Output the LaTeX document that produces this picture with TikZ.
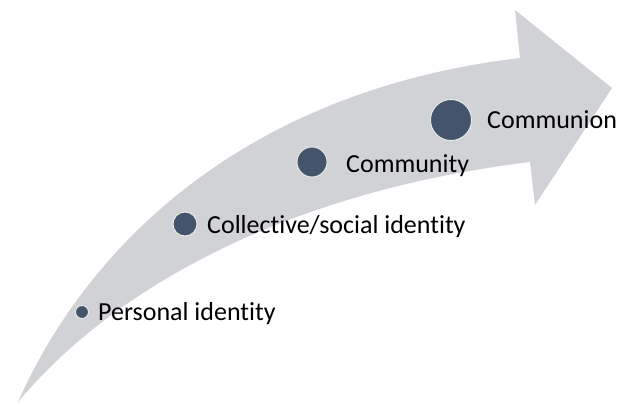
\documentclass[tikz,border=0pt]{standalone}
\usepackage{fontspec}
\setmainfont{Carlito}[RawFeature={-liga}]
\definecolor{arrowgray}{RGB}{208,210,213}
\definecolor{dotblue}{RGB}{68,84,106}
\begin{document}
\begin{tikzpicture}[x=1pt,y=-1pt,
  stage/.style={circle,fill=dotblue,draw=white!90!dotblue,line width=0.9pt,inner sep=0pt,minimum size=#1},
  label/.style={anchor=base west,inner sep=0pt,font=\fontsize{26}{30}\selectfont,text=black}]
\useasboundingbox (0,0) rectangle (631,405);
% curved block arrow
\fill[arrowgray] (18,402) .. controls (90,240) and (250,90) .. (520,58)
  -- (515,10) -- (612,88) -- (535,205) -- (530,162)
  .. controls (300,190) and (120,280) .. (18,402) -- cycle;
% stages along the arrow
\node[stage=13pt] (p) at (82,312) {};
\node[stage=24pt] (c) at (185,224) {};
\node[stage=30pt] (m) at (312,162) {};
\node[stage=41pt] (n) at (451,120) {};
\node[label] (pl) at (98,320) {Personal identity};
\node[label] (cl) at (207,233) {Collective/social identity};
\node[label] (ml) at (346,172) {Community};
\node[label] (nl) at (487,128) {Communion};
\end{tikzpicture}
\end{document}
